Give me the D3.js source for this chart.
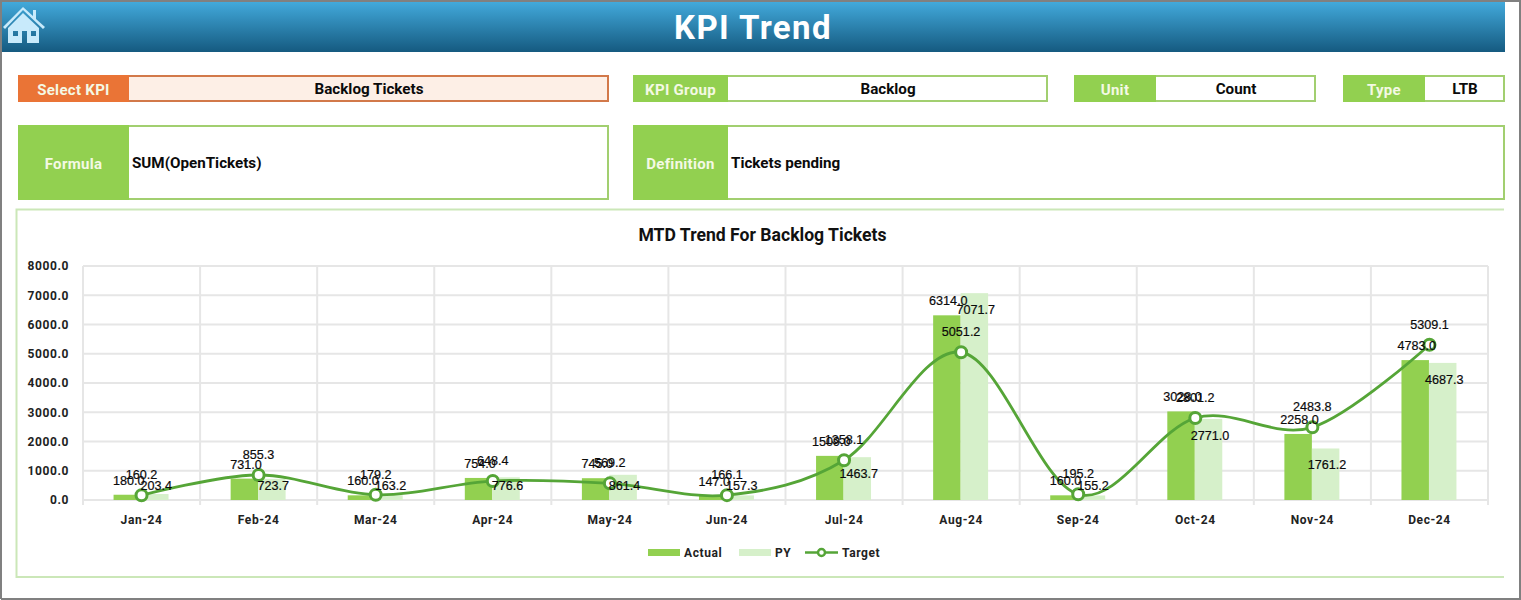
<!DOCTYPE html>
<html lang="en">
<head>
<meta charset="UTF-8">
<title>KPI Trend</title>
<script src="https://d3js.org/d3.v7.min.js"></script>
<style>
    html, body { margin: 0; padding: 0; background: #fff; overflow: hidden; }
    svg { display: block; font-family: Roboto, sans-serif; }
    .lbl { font-weight: 700; font-size: 15px; letter-spacing: .3px; fill: #f4f9e4; text-anchor: middle; dominant-baseline: central; }
    .val { font-weight: 700; font-size: 15.2px; fill: #0b0b0b; dominant-baseline: central; }
    .axis text { font-family: Roboto, sans-serif; font-weight: 700; font-size: 12px; fill: #222; letter-spacing: .6px; }
    .axis path { display: none; }
    .axis line { stroke: #e6e6e6; stroke-width: 2; }
    .dl { font-family: "Liberation Sans", Arial, sans-serif; font-size: 12.6px; fill: #0a0a0a; stroke: #0a0a0a; stroke-width: .2px; text-anchor: middle; dominant-baseline: central; }
</style>
</head>
<body>
<svg id="chart" width="1521" height="600"></svg>
<script>
    // chart data
    const months = ["Jan-24", "Feb-24", "Mar-24", "Apr-24", "May-24", "Jun-24", "Jul-24", "Aug-24", "Sep-24", "Oct-24", "Nov-24", "Dec-24"];
    const actual = [180.0, 731.0, 160.0, 754.0, 745.0, 147.0, 1509.0, 6314.0, 160.0, 3028.0, 2258.0, 4783.0];
    const py = [203.4, 723.7, 163.2, 776.6, 861.4, 157.3, 1463.7, 7071.7, 155.2, 2771.0, 1761.2, 4687.3];
    const target = [160.2, 855.3, 179.2, 648.4, 569.2, 166.1, 1358.1, 5051.2, 195.2, 2801.2, 2483.8, 5309.1];
    const yTicks = [0, 1000, 2000, 3000, 4000, 5000, 6000, 7000, 8000];

    const GREEN = "#92d050", ORANGE = "#ea7436", LIGHT = "#d6f0ca", LINE = "#55a537";
    const GREEN_EDGE = "#a2cf70", ORANGE_EDGE = "#d2794a";
    const svg = d3.select("#chart");

    // page frame and header
    const defs = svg.append("defs");
    const grad = defs.append("linearGradient").attr("id", "head").attr("x1", 0).attr("y1", 0).attr("x2", 0).attr("y2", 1);
    grad.append("stop").attr("offset", 0).attr("stop-color", "#42a9db");
    grad.append("stop").attr("offset", 1).attr("stop-color", "#155a80");

    svg.append("rect").attr("x", 2).attr("y", 2).attr("width", 1503).attr("height", 50).attr("fill", "url(#head)");
    svg.append("text").attr("x", 753).attr("y", 27).attr("text-anchor", "middle").attr("dominant-baseline", "central")
        .attr("fill", "#fff").attr("font-size", 33).attr("font-weight", 700).attr("letter-spacing", 1.4).text("KPI Trend");

    // home icon
    const home = svg.append("g").attr("fill", "#c8eafb");
    home.append("path").attr("d", "M3 27 L23 7 L33 16 L33 10 L36 10 L36 19 L45 27 L43 29 L23 10 L5 29 Z");
    home.append("path").attr("fill-rule", "evenodd").attr("d", "M8 28 L23 13 L39 28 L39 43 L27 43 L27 31 L22 31 L22 43 L8 43 Z M13 31 L13 36 L18 36 L18 31 Z M31 31 L31 36 L36 36 L36 31 Z");

    // info boxes
    function infoBox(x, y, w, h, labelW, label, value, color, edge, fill, centered) {
        svg.append("rect").attr("x", x + 1).attr("y", y + 1).attr("width", w - 2).attr("height", h - 2)
            .attr("fill", fill).attr("stroke", edge).attr("stroke-width", 2);
        svg.append("rect").attr("x", x).attr("y", y).attr("width", labelW).attr("height", h).attr("fill", color);
        svg.append("text").attr("class", "lbl").attr("x", x + labelW / 2).attr("y", y + h / 2 + 1).text(label);
        svg.append("text").attr("class", "val")
            .attr("x", centered ? x + labelW + (w - labelW) / 2 : x + labelW + 3)
            .attr("y", y + h / 2)
            .attr("text-anchor", centered ? "middle" : "start")
            .text(value);
    }
    infoBox(18, 75, 591, 27, 111, "Select KPI", "Backlog Tickets", ORANGE, ORANGE_EDGE, "#fdefe6", true);
    infoBox(633, 75, 415, 27, 95, "KPI Group", "Backlog", GREEN, GREEN_EDGE, "#fff", true);
    infoBox(1074, 75, 242, 27, 82, "Unit", "Count", GREEN, GREEN_EDGE, "#fff", true);
    infoBox(1343, 75, 162, 27, 82, "Type", "LTB", GREEN, GREEN_EDGE, "#fff", true);
    infoBox(18, 125, 591, 75, 111, "Formula", "SUM(OpenTickets)", GREEN, GREEN_EDGE, "#fff", false);
    infoBox(633, 125, 872, 75, 95, "Definition", "Tickets pending", GREEN, GREEN_EDGE, "#fff", false);

    // chart panel (no right edge, it is cut off in the sheet)
    svg.append("path").attr("d", "M1504 209.5 H16.5 V577 H1504").attr("fill", "none").attr("stroke", "#cbe7b8").attr("stroke-width", 2);

    svg.append("text").attr("x", 762.5).attr("y", 235).attr("text-anchor", "middle").attr("dominant-baseline", "central")
        .attr("font-size", 17.6).attr("font-weight", 700).attr("fill", "#111").text("MTD Trend For Backlog Tickets");

    const x = d3.scaleBand().domain(months).range([83, 1488]);
    const y = d3.scaleLinear().domain([0, 8000]).range([500, 266]);
    const series = d3.scaleBand().domain(["actual", "py"]).range([0, x.bandwidth()]).paddingInner(0).paddingOuter(1.13);

    // grid
    const grid = svg.append("g").attr("stroke", "#e6e6e6").attr("stroke-width", 2);
    grid.selectAll("line.h").data(yTicks).enter().append("line").attr("class", "h")
        .attr("x1", 83).attr("x2", 1488).attr("y1", d => y(d)).attr("y2", d => y(d));
    grid.selectAll("line.v").data(d3.range(months.length + 1)).enter().append("line").attr("class", "v")
        .attr("x1", d => 83 + d * x.step()).attr("x2", d => 83 + d * x.step())
        .attr("y1", 266).attr("y2", 505);

    // axes
    svg.append("g").attr("class", "axis").attr("transform", "translate(70,0)")
        .call(d3.axisLeft(y).tickValues(yTicks).tickSize(0).tickPadding(1).tickFormat(d3.format(".1f")));
    svg.append("g").attr("class", "axis").attr("transform", "translate(0,512)")
        .call(d3.axisBottom(x).tickSize(0).tickPadding(3));

    // bars
    svg.append("g").selectAll("rect").data(actual).enter().append("rect")
        .attr("x", (d, i) => x(months[i]) + series("actual") - 0.5)
        .attr("width", series.bandwidth())
        .attr("y", d => y(d)).attr("height", d => y(0) - y(d)).attr("fill", GREEN);
    svg.append("g").selectAll("rect").data(py).enter().append("rect")
        .attr("x", (d, i) => x(months[i]) + series("py") - 0.5)
        .attr("width", series.bandwidth())
        .attr("y", d => y(d)).attr("height", d => y(0) - y(d)).attr("fill", LIGHT);

    // target line, smoothed like the spreadsheet chart
    const mid = i => x(months[i]) + x.bandwidth() / 2;
    const line = d3.line().x((d, i) => mid(i)).y(d => y(d)).curve(d3.curveCardinal.tension(0));
    svg.append("path").datum(target).attr("d", line).attr("fill", "none").attr("stroke", LINE).attr("stroke-width", 2.8);
    svg.append("g").selectAll("circle").data(target).enter().append("circle")
        .attr("cx", (d, i) => mid(i)).attr("cy", d => y(d)).attr("r", 5.5)
        .attr("fill", "#fff").attr("stroke", LINE).attr("stroke-width", 3);

    // data labels
    const fmt = d3.format(".1f");
    const labels = svg.append("g");
    labels.selectAll("text.a").data(actual).enter().append("text").attr("class", "dl a")
        .attr("x", (d, i) => x(months[i]) + series("actual") + series.bandwidth() / 2 + 1)
        .attr("y", d => y(d) - 14).text(fmt);
    labels.selectAll("text.p").data(py).enter().append("text").attr("class", "dl p")
        .attr("x", (d, i) => x(months[i]) + series("py") + series.bandwidth() / 2 + 1)
        .attr("y", d => Math.min(y(d) + 17, 486)).text(fmt);
    labels.selectAll("text.t").data(target).enter().append("text").attr("class", "dl t")
        .attr("x", (d, i) => mid(i))
        .attr("y", d => y(d) - 20).text(fmt);

    // legend
    const leg = svg.append("g").attr("class", "axis");
    leg.append("rect").attr("x", 648).attr("y", 549).attr("width", 32).attr("height", 7).attr("fill", GREEN);
    leg.append("text").attr("x", 684).attr("y", 552.5).attr("dominant-baseline", "central").text("Actual");
    leg.append("rect").attr("x", 739).attr("y", 549).attr("width", 32).attr("height", 7).attr("fill", LIGHT);
    leg.append("text").attr("x", 775).attr("y", 552.5).attr("dominant-baseline", "central").text("PY");
    leg.append("line").attr("x1", 805).attr("x2", 838).attr("y1", 552.5).attr("y2", 552.5).attr("style", "stroke:" + LINE + ";stroke-width:2.5");
    leg.append("circle").attr("cx", 821.5).attr("cy", 552.5).attr("r", 3.5).attr("fill", "#fff").attr("stroke", LINE).attr("stroke-width", 2.5);
    leg.append("text").attr("x", 842).attr("y", 552.5).attr("dominant-baseline", "central").text("Target");

    // screenshot border
    svg.append("path").attr("d", "M1 599 V1 H1520 V599 H1").attr("fill", "none").attr("stroke", "#808080").attr("stroke-width", 2);
</script>
</body>
</html>
